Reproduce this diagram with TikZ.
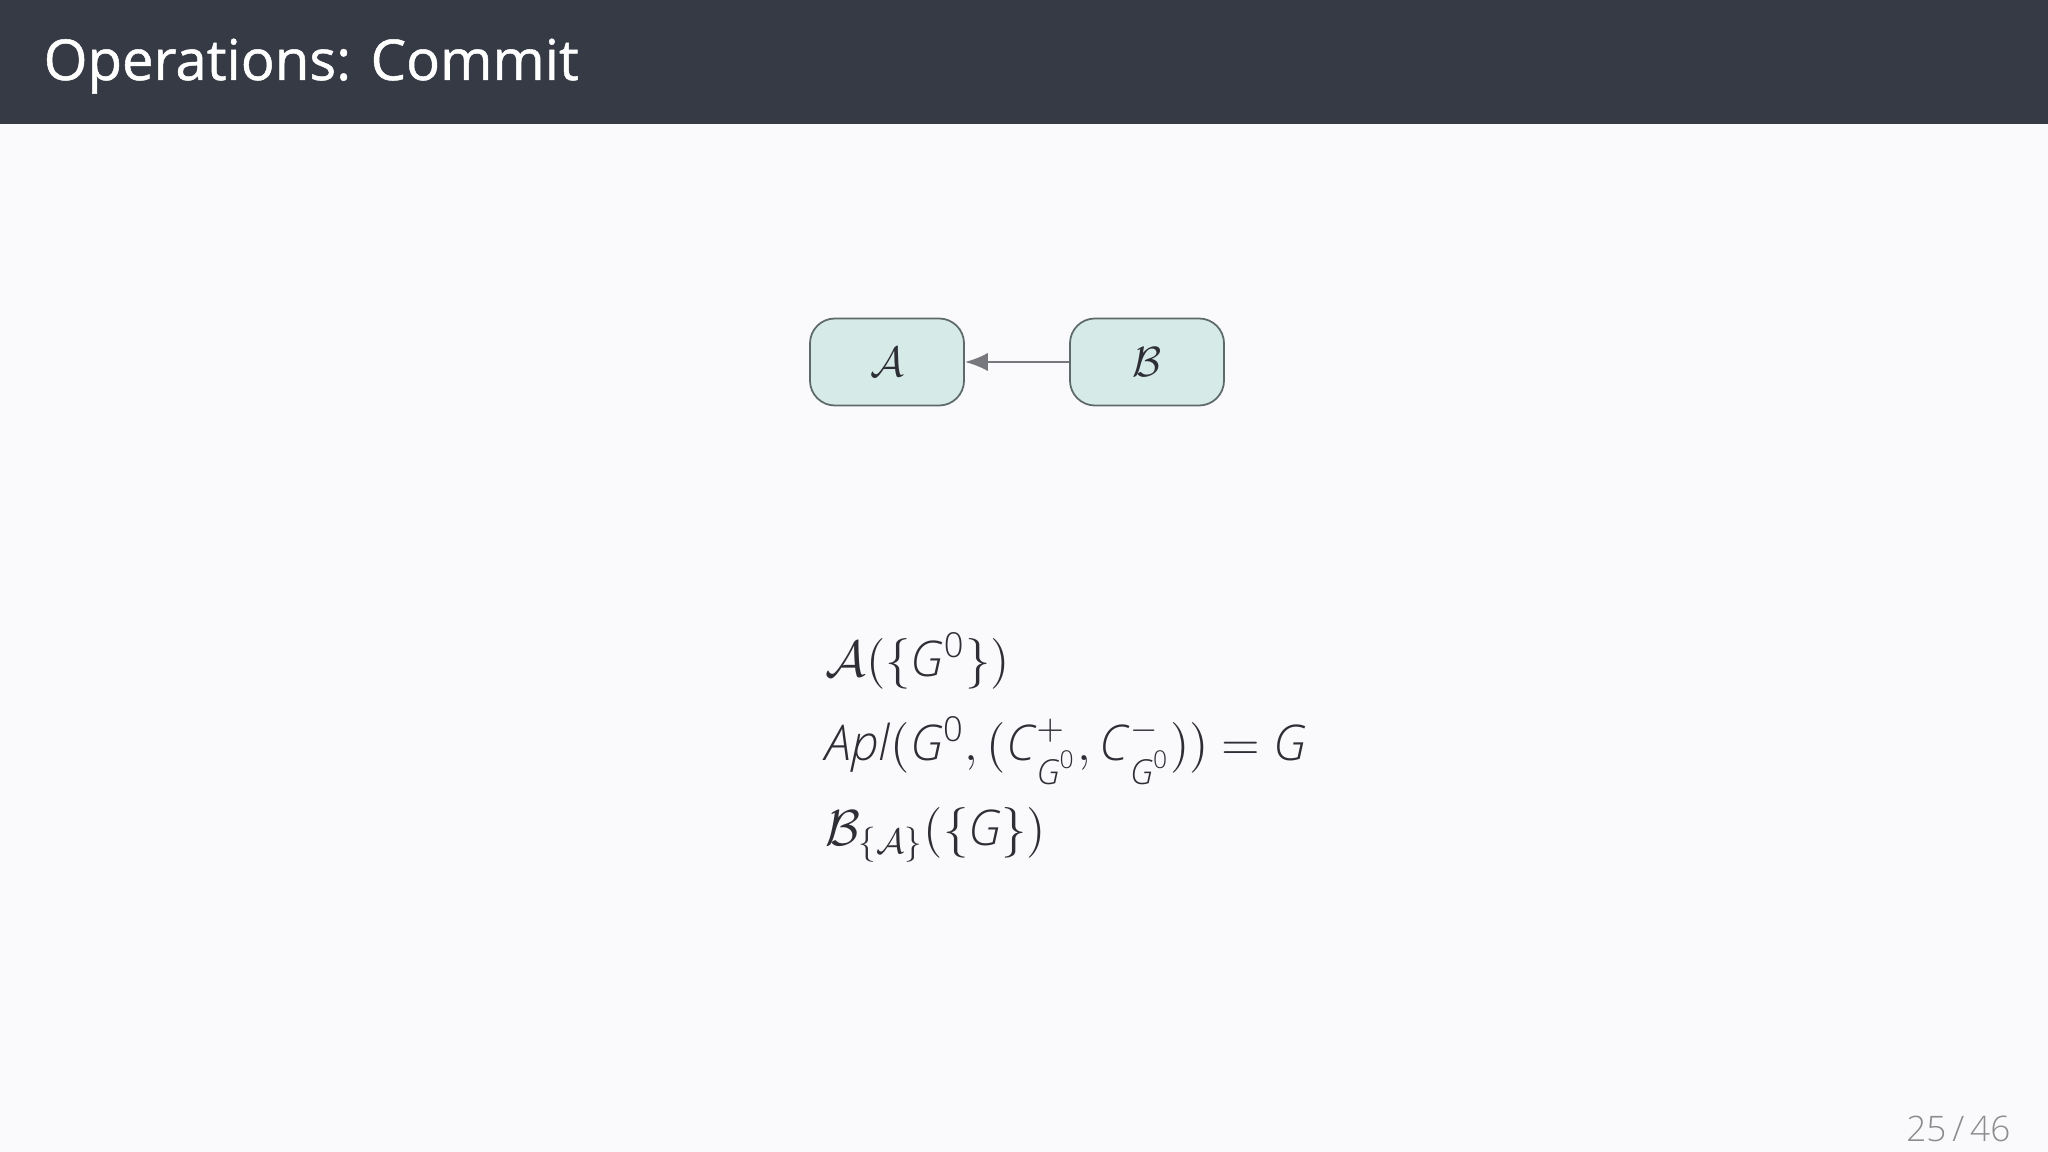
\documentclass[tikz,border=0pt]{standalone}
\usepackage{amsmath}
\usepackage{fontspec}
\setmainfont{Open Sans}
\newfontfamily\titlefont{Open Sans}[FakeBold=0.9]
\newfontfamily\lightfont{Open Sans Light}
\usetikzlibrary{arrows.meta}
\definecolor{bgc}{HTML}{FAFAFC}
\definecolor{hdr}{HTML}{353A45}
\definecolor{nfill}{HTML}{D6EAE8}
\definecolor{ndraw}{HTML}{5E6A6A}
\definecolor{arr}{HTML}{77777E}
\definecolor{txt}{HTML}{2E2E36}
\definecolor{pgn}{HTML}{8C8C90}
\newcommand{\mi}[1]{\textit{#1}}
\newcommand{\zr}{\text{\lightfont 0}}
\newcommand{\gz}{\text{\lightfont\itshape G}^{\zr}}
\tikzset{
  box/.style={draw=ndraw, fill=nfill, line width=0.5pt, rounded corners=0.25cm,
    minimum width=1.54cm, minimum height=0.87cm, inner sep=0pt, text=txt,
    font=\fontsize{11.5}{14}\selectfont},
  mline/.style={anchor=base west, inner sep=0pt, text=txt, font=\lightfont\fontsize{14}{17}\selectfont},
  link/.style={draw=arr, line width=0.7pt, -{Latex[length=6.5pt,width=5.2pt]}}
}
\begin{document}
\begin{tikzpicture}[x=0.01cm,y=-0.01cm]
\useasboundingbox (0,0) rectangle (2048,1152);
\fill[bgc] (0,0) rectangle (2048,1152);
\fill[hdr] (0,0) rectangle (2048,124);
\node[anchor=base west, inner sep=0pt, text=white, font=\titlefont\fontsize{16}{19}\selectfont] (title) at (43,80) {Operations: Commit};
\node[box] (A) at (887,362) {$\mathcal{A}$};
\node[box] (B) at (1147,362) {$\mathcal{B}$};
\draw[link] (B) -- (A);
\node[mline] (l1) at (825,676) {$\mathcal{A}(\{$\mi{G}$^{\zr}\})$};
\node[mline] (l2) at (825,760) {\mi{Apl}$($\mi{G}$^{\zr}, ($\mi{C}$^{+}_{\gz},\,$\mi{C}$^{-}_{\gz}))$ $=$ \mi{G}};
\node[mline] (l3) at (825,845) {$\mathcal{B}_{\{\mathcal{A}\}}(\{$\mi{G}$\})$};
\node[anchor=base east, inner sep=0pt, text=pgn, font=\lightfont\fontsize{10}{12}\selectfont] (pg) at (2011,1141) {25\,/\,46};
\end{tikzpicture}
\end{document}
